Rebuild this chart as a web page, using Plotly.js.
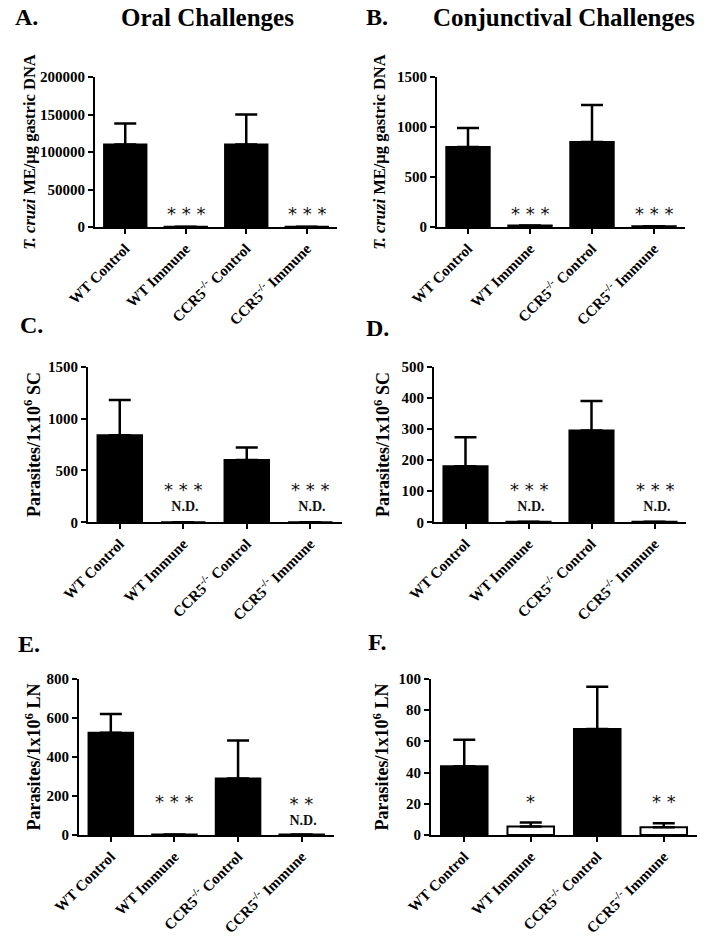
<!DOCTYPE html>
<html>
<head>
<meta charset="utf-8">
<script src="https://cdn.plot.ly/plotly-3.0.1.min.js"></script>
<style>html,body{margin:0;padding:0;background:#fff;}#chart{width:712px;height:951px;}</style>
</head>
<body>
<div id="chart"></div>
<script>
// ---- data ----
const categories = ['WT Control', 'WT Immune', 'CCR5<sup>-/-</sup> Control', 'CCR5<sup>-/-</sup> Immune'];
const catIndex = [0, 1, 2, 3];

const oralGastric = [110000, 300, 110000, 300];
const oralGastricErr = [28000, 0, 40000, 0];
const conjGastric = [800, 15, 850, 8];
const conjGastricErr = [190, 0, 370, 0];
const oralSC = [840, 0, 600, 0];
const oralSCErr = [340, 0, 120, 0];
const conjSC = [180, 2, 295, 2];
const conjSCErr = [93, 0, 95, 0];
const oralLN = [525, 3, 290, 3];
const oralLNErr = [95, 0, 195, 0];
const conjLN = [44, 5.5, 68, 5];
const conjLNErr = [17, 2.5, 27, 2.5];

const yMaxA = 200000, yTicksA = [0, 50000, 100000, 150000, 200000];
const yMaxB = 1500, yTicksB = [0, 500, 1000, 1500];
const yMaxC = 1500, yTicksC = [0, 500, 1000, 1500];
const yMaxD = 500, yTicksD = [0, 100, 200, 300, 400, 500];
const yMaxE = 800, yTicksE = [0, 200, 400, 600, 800];
const yMaxF = 100, yTicksF = [0, 20, 40, 60, 80, 100];

const fillsDefault = ['black', 'black', 'black', 'black'];
const fillsF = ['black', 'white', 'black', 'white'];

// ---- style ----
const SERIF = 'Liberation Serif, Times New Roman, serif';
const W = 712, H = 951;
const px = v => v / W;
const py = v => 1 - v / H;

function barTrace(vals, errs, fills, xa, ya) {
  return {
    type: 'bar', x: catIndex, y: vals, xaxis: xa, yaxis: ya,
    width: 0.7,
    marker: {color: fills, line: {color: 'black', width: 2}},
    error_y: {type: 'data', symmetric: false, array: errs, arrayminus: errs.map(() => 0),
              color: 'black', thickness: 2.5, width: 11, visible: true},
    hoverinfo: 'skip'
  };
}

function xAxis(domain, anchor) {
  return {
    domain: domain, anchor: anchor, range: [-0.5, 3.5],
    tickvals: catIndex, ticktext: categories, tickangle: -45,
    showline: true, linecolor: 'black', linewidth: 2, mirror: false,
    ticks: 'outside', ticklen: 5, tickwidth: 2, tickcolor: 'black',
    showgrid: false, zeroline: false, automargin: false,
    tickfont: {family: SERIF, size: 15, color: 'black', weight: 'bold'}
  };
}
function yAxis(domain, anchor, max, ticks, title, tsize, standoff) {
  return {
    domain: domain, anchor: anchor, range: [0, max], tickvals: ticks, tickformat: 'd',
    showline: true, linecolor: 'black', linewidth: 2,
    ticks: 'outside', ticklen: 5, tickwidth: 2, tickcolor: 'black',
    showgrid: false, zeroline: false, automargin: false,
    tickfont: {family: SERIF, size: 15, color: 'black', weight: 'bold'},
    title: {text: title, standoff: standoff, font: {family: SERIF, size: tsize, color: 'black', weight: 'bold'}}
  };
}

const data = [
  barTrace(oralGastric, oralGastricErr, fillsDefault, 'x', 'y'),
  barTrace(conjGastric, conjGastricErr, fillsDefault, 'x2', 'y2'),
  barTrace(oralSC, oralSCErr, fillsDefault, 'x3', 'y3'),
  barTrace(conjSC, conjSCErr, fillsDefault, 'x4', 'y4'),
  barTrace(oralLN, oralLNErr, fillsDefault, 'x5', 'y5'),
  barTrace(conjLN, conjLNErr, fillsF, 'x6', 'y6')
];

const gastricTitle = '<i>T. cruzi</i> ME/µg gastric DNA';
const scTitle = 'Parasites/1x10<sup>6</sup> SC';
const lnTitle = 'Parasites/1x10<sup>6</sup> LN';

const rowA = [py(227), py(77)];
const rowC = [py(522.3), py(366.7)];
const rowE = [py(835), py(679)];

const layout = {
  width: W, height: H,
  margin: {l: 0, r: 0, t: 0, b: 0},
  paper_bgcolor: 'white', plot_bgcolor: 'white',
  showlegend: false, bargap: 0.3,
  xaxis: xAxis([px(95), px(337)], 'y'),
  yaxis: yAxis(rowA, 'x', yMaxA, yTicksA, gastricTitle, 16.5, 0),
  xaxis2: xAxis([px(437), px(685)], 'y2'),
  yaxis2: yAxis(rowA, 'x2', yMaxB, yTicksB, gastricTitle, 16.5, 7),
  xaxis3: xAxis([px(88), px(342)], 'y3'),
  yaxis3: yAxis(rowC, 'x3', yMaxC, yTicksC, scTitle, 18, 3),
  xaxis4: xAxis([px(434), px(686)], 'y4'),
  yaxis4: yAxis(rowC, 'x4', yMaxD, yTicksD, scTitle, 18, 7),
  xaxis5: xAxis([px(79), px(333.5)], 'y5'),
  yaxis5: yAxis(rowE, 'x5', yMaxE, yTicksE, lnTitle, 18, 1),
  xaxis6: xAxis([px(431), px(697)], 'y6'),
  yaxis6: yAxis(rowE, 'x6', yMaxF, yTicksF, lnTitle, 18, 5),
  annotations: []
};

function header(text, x, y, size) {
  layout.annotations.push({text: '<b>' + text + '</b>', xref: 'paper', yref: 'paper',
    x: px(x), y: py(y), xanchor: 'center', yanchor: 'middle', showarrow: false,
    font: {family: SERIF, size: size, color: 'black'}});
}
header('A.', 26, 17, 24);
header('Oral Challenges', 207, 17, 25);
header('B.', 377, 17, 24);
header('Conjunctival Challenges', 564, 17, 25);
header('C.', 31, 325, 24);
header('D.', 377, 328, 24);
header('E.', 29, 644, 24);
header('F.', 377, 642, 24);

const STAR_STYLE = 'font-family:DejaVu Sans;font-size:18px;';
const ND_STYLE = 'font-family:Liberation Serif;font-size:14px;font-weight:bold;';

function stars(text, xa, ya, xi, yfrac) {
  layout.annotations.push({text: text, xref: xa, yref: ya + ' domain', x: xi, y: yfrac,
    xanchor: 'center', yanchor: 'middle', showarrow: false,
    font: {family: 'DejaVu Sans', size: 18, color: '#111'}});
}
// asterisks with "N.D." underneath, as a single two-line text
function starsND(text, xa, ya, xi, yfrac) {
  layout.annotations.push({
    text: '<span style="' + STAR_STYLE + '">' + text + '</span><br><span style="' + ND_STYLE + '">&nbsp;N.D.</span>',
    xref: xa, yref: ya + ' domain', x: xi, y: yfrac,
    xanchor: 'center', yanchor: 'middle', showarrow: false, align: 'center',
    font: {family: 'DejaVu Sans', size: 11.5, color: '#111'}});
}
stars('* * *', 'x', 'y', 1, 0.09); stars('* * *', 'x', 'y', 3, 0.09);
stars('* * *', 'x2', 'y2', 1, 0.09); stars('* * *', 'x2', 'y2', 3, 0.09);
starsND('* * *', 'x3', 'y3', 1, 0.165);
starsND('* * *', 'x3', 'y3', 3, 0.165);
starsND('* * *', 'x4', 'y4', 1, 0.165);
starsND('* * *', 'x4', 'y4', 3, 0.165);
stars('* * *', 'x5', 'y5', 1, 0.213);
starsND('* *', 'x5', 'y5', 3, 0.158);
stars('*', 'x6', 'y6', 1, 0.213);
stars('* *', 'x6', 'y6', 3, 0.213);

Plotly.newPlot('chart', data, layout, {staticPlot: true, displayModeBar: false});
</script>
</body>
</html>
